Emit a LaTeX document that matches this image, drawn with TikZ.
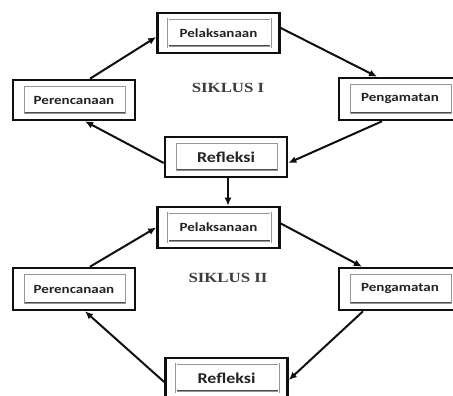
\documentclass[tikz,border=0pt]{standalone}
\usepackage{fontspec}
\usepackage{graphicx}
\usetikzlibrary{arrows.meta}
\newfontfamily\tahapfont{Carlito}
\newfontfamily\siklusfont{Liberation Serif}
\definecolor{garisbox}{RGB}{15,15,15}
\definecolor{garisdalam}{RGB}{150,150,150}
\definecolor{teksbox}{RGB}{35,35,35}
\definecolor{tekssiklus}{RGB}{60,60,60}
\newcommand{\lebar}[1]{\scalebox{1.2}[1]{#1}}
\tikzset{
    tahap/.style={draw=garisbox,line width=2.6pt,minimum width=122pt,minimum height=40pt,
        inner sep=0pt,font=\tahapfont\bfseries\fontsize{12.5}{14}\selectfont,text=teksbox},
    tahapbesar/.style={tahap,font=\tahapfont\bfseries\fontsize{15}{17}\selectfont},
    kotakdalam/.style={draw=garisdalam,line width=0.4pt,double=white,double distance=1pt},
    garisbawah/.style={draw=black!70,line width=0.8pt},
    panah/.style={-{Latex[length=8pt,width=7pt]},line width=2pt,draw=garisbox},
    siklus/.style={font=\siklusfont\bfseries\fontsize{14}{16}\selectfont,text=tekssiklus}
}

\begin{document}
\begin{tikzpicture}[x=1pt,y=-1pt]

% Canvas
\fill[white] (0,0) rectangle (453,396);
\useasboundingbox (0,0) rectangle (453,396);

% Siklus I
\node[tahap] (pel1) at (218.5,33) {\lebar{Pelaksanaan}};
\node[tahap] (per1) at (74,100) {\lebar{Perencanaan}};
\node[tahap,minimum height=42pt] (pen1) at (400,99) {\lebar{Pengamatan}};
\node[tahapbesar] (ref1) at (226,157) {\lebar{Refleksi}};
\node[siklus] (sik1) at (228,88) {\lebar{SIKLUS I}};

% Siklus II
\node[tahap,minimum height=41pt] (pel2) at (218.5,227.5) {\lebar{Pelaksanaan}};
\node[tahap,minimum height=42pt] (per2) at (74,289) {\lebar{Perencanaan}};
\node[tahap,minimum height=42pt] (pen2) at (400,289) {\lebar{Pengamatan}};
\node[tahapbesar] (ref2) at (226.5,378) {\lebar{Refleksi}};
\node[siklus] (sik2) at (228,278) {\lebar{SIKLUS II}};

% Inner text boxes
\foreach \n in {pel1,per1,pen1,ref1,pel2,per2,pen2,ref2} {
    \draw[kotakdalam] ([shift={(12pt,-7pt)}]\n.north west) rectangle ([shift={(-10pt,7pt)}]\n.south east);
    \draw[garisbawah] ([shift={(13pt,8.5pt)}]\n.south west) -- ([shift={(-11pt,8.5pt)}]\n.south east);
}

% Arrows siklus I
\draw[panah] ([xshift=16pt]per1.north) -- ([yshift=-4pt]pel1.west);
\draw[panah] ([yshift=5pt]pel1.east) -- ([xshift=-23pt]pen1.north);
\draw[panah] ([xshift=-18pt]pen1.south) -- ([yshift=-6pt]ref1.east);
\draw[panah] ([yshift=-6pt]ref1.west) -- ([xshift=11pt]per1.south);

% Siklus I ke siklus II
\draw[panah] ([xshift=2pt]ref1.south) -- ([xshift=2pt]ref1.south |- pel2.north);

% Arrows siklus II
\draw[panah] ([xshift=16pt]per2.north) -- (pel2.west);
\draw[panah] ([yshift=4pt]pel2.east) -- ([xshift=-38pt]pen2.north);
\draw[panah] ([xshift=-37pt]pen2.south) -- ([yshift=-2pt]ref2.east);
\draw[panah] ([yshift=-4pt]ref2.west) -- ([xshift=11pt]per2.south);

\end{tikzpicture}
\end{document}
